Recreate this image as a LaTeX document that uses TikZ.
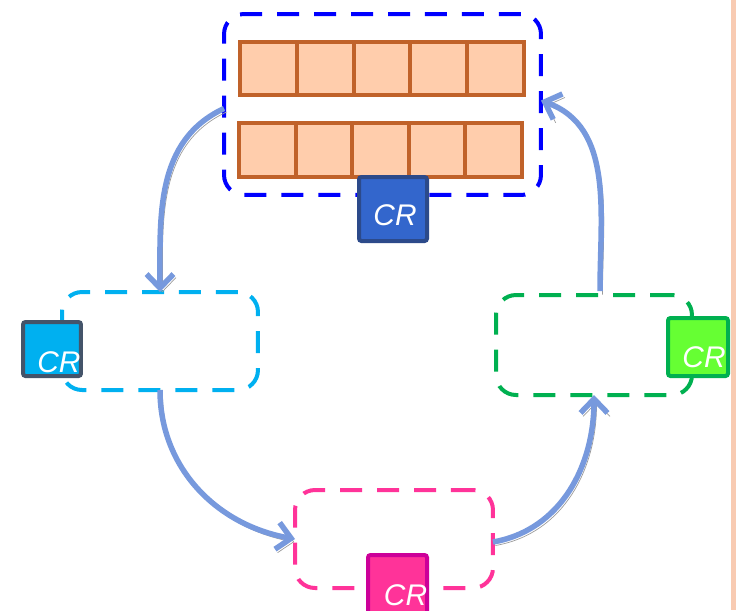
\documentclass[tikz,border=0pt]{standalone}
\usepackage{fontspec}
\setsansfont{Liberation Sans}
\usetikzlibrary{calc,arrows.meta}

\definecolor{cellfill}{RGB}{255,205,172}
\definecolor{cellline}{RGB}{192,98,42}
\definecolor{flowblue}{RGB}{119,153,221}
\definecolor{flowshadow}{RGB}{155,155,155}
\definecolor{stripcol}{RGB}{248,203,178}

\begin{document}
\begin{tikzpicture}[x=0.02cm,y=-0.02cm,
  every node/.style={outer sep=0pt},
  stage/.style={draw, rectangle, rounded corners=0.4cm, line width=0.08cm,
    dash pattern=on 0.44cm off 0.3cm, inner sep=0pt},
  cell/.style={draw=cellline, fill=cellfill, line width=0.08cm,
    minimum width=1.136cm, minimum height=1.07cm, inner sep=0pt},
  crbox/.style={draw, line width=0.08cm, rounded corners=0.05cm, inner sep=0pt},
  crtext/.style={anchor=base, text=white, inner sep=0pt,
    font=\fontsize{17}{20}\selectfont\sffamily\itshape},
  flow/.style={draw=flowblue, line width=0.11cm,
    -{Straight Barb[length=0.28cm,width=0.54cm]},
    preaction={draw=flowshadow, transform canvas={xshift=0.05cm,yshift=-0.07cm}}}
  ]
  \useasboundingbox (0,0) rectangle (736,610);
  \fill[stripcol] (731,0) rectangle (736,610);

  % buffer with two rows of cells
  \node[stage, draw=blue, minimum width=6.34cm, minimum height=3.62cm] (buf) at (382.5,104.5) {};
  \foreach \i in {0,...,4} {
    \node[cell] (ra\i) at (268.4+56.8*\i,68.5) {};
    \node[cell] (rb\i) at (267.4+56.6*\i,150) {};
  }

  \node[stage, draw={rgb,255:red,0;green,176;blue,240}, minimum width=3.92cm, minimum height=1.96cm] (lft) at (160,341) {};
  \node[stage, draw={rgb,255:red,255;green,51;blue,153}, minimum width=3.96cm, minimum height=1.96cm] (bot) at (394,539) {};
  \node[stage, draw={rgb,255:red,0;green,176;blue,80}, minimum width=3.92cm, minimum height=2cm] (rgt) at (594,345) {};

  % CR markers
  \node[crbox, draw={rgb,255:red,44;green,74;blue,138}, fill={rgb,255:red,51;green,102;blue,204},
    minimum width=1.36cm, minimum height=1.28cm] (crbuf) at (393,209) {};
  \node[crtext] (tbuf) at ($(crbuf.center)+(2,16)$) {CR};

  \node[crbox, draw={rgb,255:red,68;green,84;blue,106}, fill={rgb,255:red,0;green,176;blue,240},
    minimum width=1.16cm, minimum height=1.08cm] (crlft) at (52,349) {};
  \node[crtext] (tlft) at ($(crlft.center)+(7,23)$) {CR};

  \node[crbox, draw={rgb,255:red,204;green,0;blue,153}, fill={rgb,255:red,255;green,51;blue,153},
    minimum width=1.18cm, minimum height=1.18cm] (crbot) at (397.5,584.5) {};
  \node[crtext] (tbot) at ($(crbot.center)+(8,21)$) {CR};

  \node[crbox, draw={rgb,255:red,0;green,176;blue,80}, fill={rgb,255:red,102;green,255;blue,51},
    minimum width=1.2cm, minimum height=1.16cm] (crrgt) at (698,347) {};
  \node[crtext] (trgt) at ($(crrgt.center)+(6,20)$) {CR};

  \draw[flow] ($(buf.west)+(0,4)$) to[out=205,in=90] (lft.north);
  \draw[flow] (lft.south) to[out=270,in=170] (bot.west);
  \draw[flow] ($(bot.east)+(0,3)$) to[out=10,in=270] (rgt.south);
  \draw[flow] ($(rgt.north)+(6,-4)$) to[out=90,in=-20] ($(buf.east)+(0,-4)$);
\end{tikzpicture}
\end{document}
